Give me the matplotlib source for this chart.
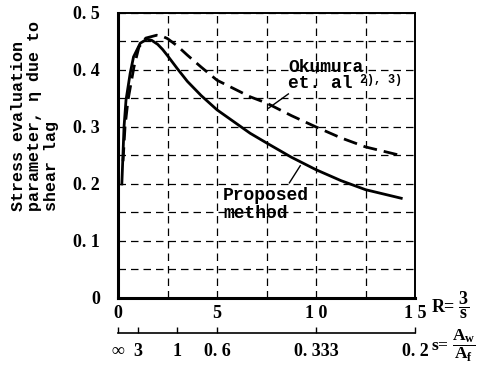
import matplotlib
matplotlib.use("Agg")
import matplotlib.pyplot as plt
from matplotlib.ticker import MultipleLocator

# R = 3/s values and stress evaluation parameter eta
proposed_r = [0.19, 0.3, 0.4, 0.61, 0.78, 1.12, 1.45, 1.7, 2.0, 2.25, 2.5, 3.0, 3.5,
              4.2, 5.0, 6.67, 7.5, 8.75, 10.0, 11.25, 12.5, 14.3]
proposed_eta = [0.2, 0.3, 0.347, 0.394, 0.423, 0.447, 0.454, 0.452, 0.445, 0.436, 0.425, 0.402, 0.38,
                0.355, 0.33, 0.289, 0.272, 0.247, 0.225, 0.206, 0.19, 0.175]

okumura_r = [0.25, 0.35, 0.5, 0.8, 1.05, 1.4, 1.95, 2.25, 2.5, 3.0, 3.5, 4.2, 5.0, 6.67, 7.5,
             8.75, 10.0, 11.25, 12.5, 14.4]
okumura_eta = [0.24, 0.3, 0.347, 0.405, 0.44, 0.456, 0.461, 0.459, 0.455, 0.442, 0.426, 0.405, 0.382,
               0.353, 0.342, 0.32, 0.3, 0.281, 0.265, 0.249]

r_ticks = [0, 5, 10, 15]
r_labels = ["0", "5", "1 0", "1 5"]
eta_ticks = [0, 0.1, 0.2, 0.3, 0.4, 0.5]
eta_labels = ["0", "0. 1", "0. 2", "0. 3", "0. 4", "0. 5"]
s_pos = [0, 1, 3, 5, 10, 15]
s_labels = ["∞", "3", "1", "0. 6", "0. 333", "0. 2"]

plt.rcParams["mathtext.fontset"] = "custom"
plt.rcParams["mathtext.rm"] = "Liberation Serif:bold"
plt.rcParams["mathtext.it"] = "Liberation Serif:bold"
plt.rcParams["mathtext.bf"] = "Liberation Serif:bold"

num_font = dict(family="Liberation Serif", weight="bold", size=13)
mono_font = dict(family="Liberation Mono", weight="bold")

fig = plt.figure(figsize=(4.92, 3.66), dpi=100)
ax = fig.add_axes([0.240, 0.1858, 0.6037, 0.7787])

ax.plot(proposed_r, proposed_eta, color="black", lw=2.0)
ax.plot(okumura_r, okumura_eta, color="black", lw=2.0, dashes=(5, 2.5))

ax.set_xlim(0, 15)
ax.set_ylim(0, 0.5)
ax.xaxis.set_minor_locator(MultipleLocator(2.5))
ax.yaxis.set_minor_locator(MultipleLocator(0.05))
ax.grid(which="both", color="black", lw=0.9, dashes=(6, 4))
ax.set_xticks(r_ticks)
ax.set_xticklabels(r_labels, fontdict=num_font)
ax.set_yticks(eta_ticks)
ax.set_yticklabels(eta_labels, fontdict=num_font)
ax.tick_params(which="both", length=0)
ax.tick_params(axis="x", pad=5)
ax.tick_params(axis="y", pad=13)
for side in ["left", "bottom"]:
    ax.spines[side].set_linewidth(2.2)
for side in ["top", "right"]:
    ax.spines[side].set_linewidth(1.4)

ax.text(-0.36, 0.305, "Stress evaluation\nparameter, η due to\nshear lag",
        transform=ax.transAxes, rotation=90, ha="left", va="bottom",
        multialignment="left", fontsize=12, linespacing=1.1,
        fontfamily="Liberation Mono", fontweight="bold")

ax.text(8.6, 0.405, "Okumura", fontsize=13, ha="left", va="center", **mono_font)
ax.text(8.6, 0.376, "et. al", fontsize=13, ha="left", va="center", **mono_font)
ax.text(12.2, 0.383, "2), 3)", fontsize=8.5, ha="left", va="center", **mono_font)
ax.plot([7.6, 8.6], [0.333, 0.358], color="black", lw=1.0)

ax.text(5.3, 0.18, "Proposed", fontsize=13, ha="left", va="center", **mono_font)
ax.text(5.3, 0.148, "method", fontsize=13, ha="left", va="center", **mono_font)
ax.plot([8.65, 9.2], [0.202, 0.232], color="black", lw=1.0)

fig.text(0.876, 0.167, r"R= $\dfrac{3}{s}$", ha="left", va="center", fontsize=13,
         fontfamily="Liberation Serif", fontweight="bold")

# secondary s axis
ax2 = fig.add_axes([0.240, 0.0902, 0.6037, 0.0001])
ax2.set_xlim(0, 15)
ax2.set_yticks([])
for side in ["left", "right", "top"]:
    ax2.spines[side].set_visible(False)
ax2.spines["bottom"].set_linewidth(1.2)
ax2.set_xticks(s_pos)
ax2.set_xticklabels(s_labels, fontdict=num_font)
ax2.tick_params(axis="x", direction="in", length=4, width=1.0, pad=7)
ax2.patch.set_visible(False)

fig.text(0.877, 0.056, r"s= $\dfrac{A_w}{A_f}$", ha="left", va="center", fontsize=12.5,
         fontfamily="Liberation Serif", fontweight="bold")

fig.savefig("out.png", dpi=100)
